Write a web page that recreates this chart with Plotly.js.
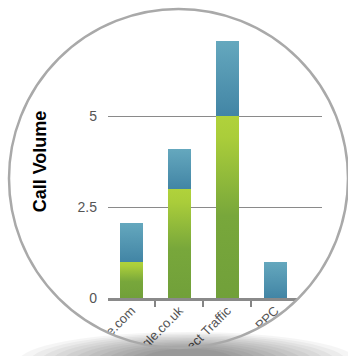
<!DOCTYPE html>
<html>
<head>
<meta charset="utf-8">
<script src="https://cdn.plot.ly/plotly-3.0.1.min.js"></script>
<style>
  html, body { margin: 0; padding: 0; background: #ffffff; }
  #chart { width: 348px; height: 356px; }
</style>
</head>
<body>
<div id="chart"></div>
<script>
// ---- data ----
var categories = ['google.com', 'google.co.uk', 'Direct Traffic', 'PPC'];
var greenValues = [1, 3, 5, 0];
var blueValues = [1.07, 1.1, 2.07, 1];
var yTickVals = [0, 2.5, 5, 7.5];
var yTickText = ['0', '2.5', '5', '7.5'];

// ---- layout geometry (pixels) ----
var W = 348, H = 356;
var M = { l: 108, r: 26, t: 25, b: 58 };
var plotW = W - M.l - M.r, plotH = H - M.t - M.b;
function px(x) { return (x - M.l) / plotW; }
function py(y) { return (H - M.b - y) / plotH; }

var lens = { cx: 178.5, cy: 178.5, r: 169.5 };

// white mask outside the lens
var maskPath = 'M ' + px(-20) + ' ' + py(-20) + ' L ' + px(W + 20) + ' ' + py(-20) +
  ' L ' + px(W + 20) + ' ' + py(H + 20) + ' L ' + px(-20) + ' ' + py(H + 20) + ' Z';
var n = 240;
for (var i = 0; i <= n; i++) {
  var t = -2 * Math.PI * i / n;
  var X = lens.cx + lens.r * Math.cos(t);
  var Y = lens.cy + lens.r * Math.sin(t);
  maskPath += (i === 0 ? ' M ' : ' L ') + px(X) + ' ' + py(Y);
}
maskPath += ' Z';

var shapes = [{
  type: 'path', xref: 'paper', yref: 'paper', layer: 'above',
  path: maskPath, fillcolor: '#ffffff', fillrule: 'evenodd', line: { width: 0 }
}];

// soft shadow under the lens
for (var k = 0; k < 12; k++) {
  var rx = 170 - k * 11, ry = 30 - k * 1.5, scx = 188, scy = 362;
  shapes.push({
    type: 'circle', xref: 'paper', yref: 'paper', layer: 'above',
    x0: px(scx - rx), x1: px(scx + rx), y0: py(scy + ry), y1: py(scy - ry),
    fillcolor: 'rgba(0,0,0,0.04)', line: { width: 0 }
  });
}

// lens ring
shapes.push({
  type: 'circle', xref: 'paper', yref: 'paper', layer: 'above',
  x0: px(lens.cx - lens.r), x1: px(lens.cx + lens.r),
  y0: py(lens.cy + lens.r), y1: py(lens.cy - lens.r),
  fillcolor: 'rgba(0,0,0,0)', line: { color: '#a9a9a9', width: 2.5 }
});

var font = 'Liberation Sans, Arial, Helvetica, sans-serif';

var traces = [
  {
    type: 'bar', x: categories, y: greenValues, width: 0.48,
    marker: { color: '#8fbb3a', line: { width: 0 } },
    hoverinfo: 'none', showlegend: false
  },
  {
    type: 'bar', x: categories, y: blueValues, width: 0.48,
    marker: { color: '#5396b2', line: { width: 0 } },
    hoverinfo: 'none', showlegend: false
  }
];

var layout = {
  width: W, height: H,
  margin: M,
  paper_bgcolor: '#ffffff', plot_bgcolor: '#ffffff',
  barmode: 'stack',
  showlegend: false,
  font: { family: font, color: '#555555' },
  xaxis: {
    type: 'category',
    range: [-0.49, 3.98],
    showgrid: false,
    showline: true, linecolor: '#8a8a8a', linewidth: 3,
    ticks: 'outside', tickson: 'boundaries', ticklen: 6, tickwidth: 2, tickcolor: '#858585',
    tickangle: -45, ticklabelstandoff: -3,
    tickfont: { family: font, size: 13, color: '#555555' },
    zeroline: false
  },
  yaxis: {
    range: [0, 7.5],
    tickvals: yTickVals, ticktext: yTickText,
    showgrid: true, gridcolor: '#8a8a8a', gridwidth: 1,
    zeroline: false, showline: false,
    ticks: '', ticklabelstandoff: 10,
    tickfont: { family: font, size: 14, color: '#555555' },
    title: { text: 'Call Volume', standoff: 26,
             font: { family: font, size: 18, color: '#000000', weight: 'bold' } }
  },
  shapes: shapes
};

Plotly.newPlot('chart', traces, layout, { staticPlot: true, displayModeBar: false }).then(function (gd) {
  var svgNS = 'http://www.w3.org/2000/svg';
  var svg = gd.querySelector('svg.main-svg');
  var defs = svg.querySelector('defs');
  if (!defs) { defs = document.createElementNS(svgNS, 'defs'); svg.insertBefore(defs, svg.firstChild); }
  function grad(id, stops) {
    var g = document.createElementNS(svgNS, 'linearGradient');
    g.setAttribute('id', id);
    g.setAttribute('x1', '0'); g.setAttribute('y1', '0');
    g.setAttribute('x2', '0'); g.setAttribute('y2', '1');
    stops.forEach(function (s) {
      var st = document.createElementNS(svgNS, 'stop');
      st.setAttribute('offset', s[0]);
      st.setAttribute('stop-color', s[1]);
      g.appendChild(st);
    });
    defs.appendChild(g);
  }
  grad('gGreen', [['0', '#b0d23b'], ['0.12', '#aacd3a'], ['0.55', '#78a73b'], ['1', '#71a03a']]);
  grad('gBlue', [['0', '#65a8be'], ['1', '#4285a5']]);
  var tr = gd.querySelectorAll('.barlayer .trace');
  var ids = ['gGreen', 'gBlue'];
  tr.forEach(function (t, i) {
    t.querySelectorAll('path').forEach(function (p) { p.style.fill = 'url(#' + ids[i] + ')'; });
  });
});
</script>
</body>
</html>
